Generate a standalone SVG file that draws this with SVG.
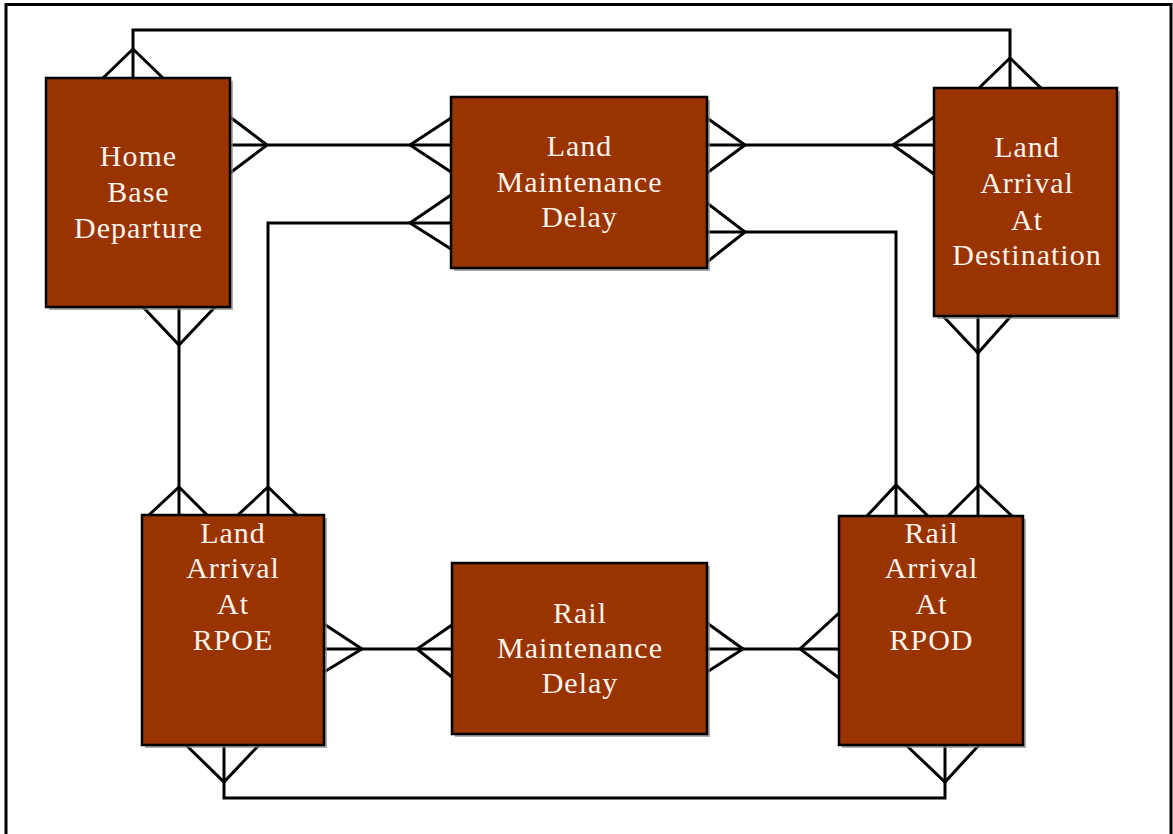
<svg xmlns="http://www.w3.org/2000/svg" width="1173" height="834" viewBox="0 0 1173 834">
  <style>
    .frame { fill: none; stroke: #000; stroke-width: 3; }
    .link { fill: none; stroke: #000; stroke-width: 3; stroke-linejoin: miter; }
    .shadow { fill: #8a8a8a; opacity: 0.7; }
    .box { fill: #993300; stroke: #000; stroke-width: 2.5; }
    .label { font-family: "Liberation Serif", "Times New Roman", serif; font-size: 30px; letter-spacing: 1px; fill: #fbf4ec; text-anchor: middle; }
  </style>
  <rect width="1173" height="834" fill="#fff"/>
  <!-- page border (open at the bottom) -->
  <path class="frame" d="M6,834 V4.5 H1171 V834"/>

  <g id="connectors">
    <!-- Home Base Departure top to Land Arrival At Destination top -->
    <path class="link" d="M133,78 V30 H1010 V88"/>
    <path class="link" d="M103,78 L133,49 L163,78"/>
    <path class="link" d="M979,88 L1010,58 L1041,88"/>
    <!-- Home Base Departure to Land Maintenance Delay -->
    <path class="link" d="M230,145 H451"/>
    <path class="link" d="M230,117 L267,145 L230,173"/>
    <path class="link" d="M451,118 L410,145 L451,172"/>
    <!-- Land Maintenance Delay to Land Arrival At Destination -->
    <path class="link" d="M707,145 H934"/>
    <path class="link" d="M707,118 L745,145 L707,173"/>
    <path class="link" d="M934,117 L893,145 L934,174"/>
    <!-- Land Maintenance Delay to Land Arrival At RPOE -->
    <path class="link" d="M451,223 H268 V515"/>
    <path class="link" d="M451,195 L410,223 L451,249"/>
    <path class="link" d="M238,515 L268,487 L297,515"/>
    <!-- Land Maintenance Delay to Rail Arrival At RPOD -->
    <path class="link" d="M707,232 H896 V516"/>
    <path class="link" d="M707,203 L745,232 L707,262"/>
    <path class="link" d="M867,516 L896,485 L928,516"/>
    <!-- Home Base Departure to Land Arrival At RPOE -->
    <path class="link" d="M179,307 V515"/>
    <path class="link" d="M143,307 L179,345 L215,307"/>
    <path class="link" d="M149,515 L179,487 L207,515"/>
    <!-- Land Arrival At Destination to Rail Arrival At RPOD -->
    <path class="link" d="M978,316 V516"/>
    <path class="link" d="M943,316 L978,353 L1011,316"/>
    <path class="link" d="M948,516 L979,485 L1012,516"/>
    <!-- Land Arrival At RPOE to Rail Maintenance Delay -->
    <path class="link" d="M324,649 H452"/>
    <path class="link" d="M324,624 L362,649 L324,672"/>
    <path class="link" d="M452,625 L417,649 L452,677"/>
    <!-- Rail Maintenance Delay to Rail Arrival At RPOD -->
    <path class="link" d="M707,649 H839"/>
    <path class="link" d="M707,623 L743,649 L707,672"/>
    <path class="link" d="M839,613 L800,649 L839,678"/>
    <!-- Land Arrival At RPOE bottom to Rail Arrival At RPOD bottom -->
    <path class="link" d="M224,745 V798 H945 V745"/>
    <path class="link" d="M186,745 L224,782 L259,745"/>
    <path class="link" d="M906,745 L945,782 L979,745"/>
  </g>

  <g id="home-base-departure">
    <rect class="shadow" x="49" y="81" width="184" height="229"/>
    <rect class="box" x="46" y="78" width="184" height="229"/>
    <text class="label" x="138.5" y="166">Home</text>
    <text class="label" x="138.5" y="202">Base</text>
    <text class="label" x="138.5" y="238">Departure</text>
  </g>

  <g id="land-maintenance-delay">
    <rect class="shadow" x="454" y="100" width="256" height="171"/>
    <rect class="box" x="451" y="97" width="256" height="171"/>
    <text class="label" x="579.5" y="156">Land</text>
    <text class="label" x="579.5" y="192">Maintenance</text>
    <text class="label" x="579.5" y="227">Delay</text>
  </g>

  <g id="land-arrival-destination">
    <rect class="shadow" x="937" y="91" width="183" height="228"/>
    <rect class="box" x="934" y="88" width="183" height="228"/>
    <text class="label" x="1027" y="157">Land</text>
    <text class="label" x="1027" y="193">Arrival</text>
    <text class="label" x="1027" y="230">At</text>
    <text class="label" x="1027" y="265">Destination</text>
  </g>

  <g id="land-arrival-rpoe">
    <rect class="shadow" x="145" y="518" width="182" height="230"/>
    <rect class="box" x="142" y="515" width="182" height="230"/>
    <text class="label" x="233" y="543">Land</text>
    <text class="label" x="233" y="578">Arrival</text>
    <text class="label" x="233" y="614">At</text>
    <text class="label" x="233" y="650">RPOE</text>
  </g>

  <g id="rail-maintenance-delay">
    <rect class="shadow" x="455" y="566" width="255" height="171"/>
    <rect class="box" x="452" y="563" width="255" height="171"/>
    <text class="label" x="580" y="623">Rail</text>
    <text class="label" x="580" y="658">Maintenance</text>
    <text class="label" x="580" y="693">Delay</text>
  </g>

  <g id="rail-arrival-rpod">
    <rect class="shadow" x="842" y="519" width="184" height="229"/>
    <rect class="box" x="839" y="516" width="184" height="229"/>
    <text class="label" x="931.5" y="543">Rail</text>
    <text class="label" x="931.5" y="578">Arrival</text>
    <text class="label" x="931.5" y="614">At</text>
    <text class="label" x="931.5" y="650">RPOD</text>
  </g>
</svg>
